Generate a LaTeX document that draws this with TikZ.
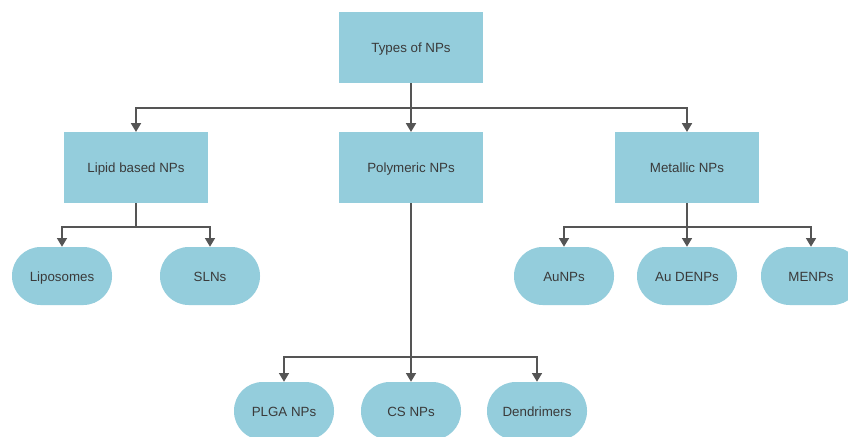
\documentclass[tikz,border=0pt]{standalone}
\usepackage{fontspec}
\setmainfont{Liberation Sans}
\usetikzlibrary{arrows.meta}
\definecolor{npblue}{HTML}{94CDDC}
\definecolor{nptext}{HTML}{3A3A3A}
\definecolor{npline}{HTML}{555555}
\tikzset{
  npbox/.style={rectangle, fill=npblue, minimum width=108pt, minimum height=53pt, inner sep=0pt, text height=8.2pt, text depth=0.6pt, text=nptext, font=\fontsize{10}{12}\selectfont},
  nppill/.style={rectangle, rounded corners=21.5pt, fill=npblue, minimum width=75pt, minimum height=43.5pt, inner sep=0pt, text height=8.2pt, text depth=0.6pt, text=nptext, font=\fontsize{10}{12}\selectfont},
  nparrow/.style={draw=npline, line width=1.1pt, -{Triangle[length=6.5pt,width=7.5pt]}},
  npline/.style={draw=npline, line width=1.1pt}
}
\begin{document}
\begin{tikzpicture}[x=0.75pt,y=-0.75pt]
			\useasboundingbox[fill=white] (0,0) rectangle (848,436);
			%% main boxes
			\node[npbox] (types) at (411,47.5) {Types of NPs};
			\node[npbox] (lipid) at (136,167.5) {Lipid based NPs};
			\node[npbox] (poly) at (411,167.5) {Polymeric NPs};
			\node[npbox] (metal) at (687,167.5) {Metallic NPs};
			%% leaves
			\node[nppill] (lipo) at (62,276) {Liposomes};
			\node[nppill] (sln) at (210,276) {SLNs};
			\node[nppill] (aunp) at (564,276) {AuNPs};
			\node[nppill] (audenp) at (687,276) {Au DENPs};
			\node[nppill] (menp) at (811,276) {MENPs};
			\node[nppill] (plga) at (284,411) {PLGA NPs};
			\node[nppill] (cs) at (411,411) {CS NPs};
			\node[nppill] (dend) at (537,411) {Dendrimers};
			%% branch points
			\coordinate (btypes) at (411,108);
			\coordinate (blipid) at (136,227);
			\coordinate (bpoly) at (411,357);
			\coordinate (bmetal) at (687,227);
			%%% edges
			\draw[npline] (types.south) -- (btypes);
			\draw[nparrow] (btypes) -| (lipid.north);
			\draw[nparrow] (btypes) -| (metal.north);
			\draw[nparrow] (btypes) -- (poly.north);
			\draw[npline] (lipid.south) -- (blipid);
			\draw[nparrow] (blipid) -| (lipo.north);
			\draw[nparrow] (blipid) -| (sln.north);
			\draw[npline] (poly.south) -- (bpoly);
			\draw[nparrow] (bpoly) -| (plga.north);
			\draw[nparrow] (bpoly) -| (dend.north);
			\draw[nparrow] (bpoly) -- (cs.north);
			\draw[npline] (metal.south) -- (bmetal);
			\draw[nparrow] (bmetal) -| (aunp.north);
			\draw[nparrow] (bmetal) -| (menp.north);
			\draw[nparrow] (bmetal) -- (audenp.north);
		\end{tikzpicture}
\end{document}
